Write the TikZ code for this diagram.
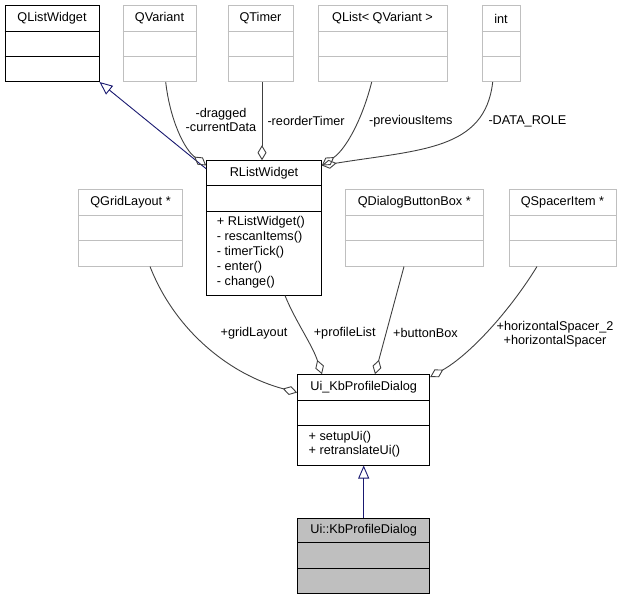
\documentclass[tikz,border=0pt]{standalone}
\usepackage{fontspec}
\setmainfont{Liberation Sans}
\usetikzlibrary{arrows.meta,fit,calc}
\definecolor{greyseventyfive}{RGB}{191,191,191}
\definecolor{edgegray}{RGB}{64,64,64}
\definecolor{inhblue}{RGB}{25,25,112}
% #1 name, #2 style, #3 left x, #4 top y, #5 right x, #6 sep1 y, #7 sep2 y, #8 bottom y, #9 title
\newcommand{\umlcls}[9]{%
  \node[#2, inner sep=0pt, fit={(#3,#4) (#5,#8)}] (#1) {};
  \draw[#2] (#1.west |- 0,#6) -- (#1.east |- 0,#6);
  \draw[#2] (#1.west |- 0,#7) -- (#1.east |- 0,#7);
  \node[inner sep=0pt] (#1-t) at ({(#3+#5)/2},{(#4+#6)/2}) {#9};
}
\begin{document}
\begin{tikzpicture}[x=1pt,y=-1pt,
  font=\fontsize{12.7pt}{14pt}\selectfont,
  clsB/.style={draw=black, fill=white, line width=1pt},
  clsG/.style={draw=greyseventyfive, fill=white, line width=1pt},
  clsF/.style={draw=black, fill=greyseventyfive, line width=1pt},
  meth/.style={inner sep=0pt, anchor=west},
  lbl/.style={inner sep=0pt},
  agg/.style={draw=edgegray, line width=0.9pt, -{Diamond[open, length=15pt, width=9pt]}},
  inh/.style={draw=inhblue, line width=0.9pt, -{Triangle[open, length=13pt, width=11pt]}}]
\useasboundingbox (0,0) rectangle (623,600);

% top row
\umlcls{qlw}{clsB}{5}{5.5}{99}{31.5}{56.5}{81.5}{QListWidget}
\umlcls{qvar}{clsG}{123}{5.5}{196}{31.5}{56.5}{81.5}{QVariant}
\umlcls{qtim}{clsG}{228}{5.5}{293}{31.5}{56.5}{81.5}{QTimer}
\umlcls{qlist}{clsG}{318}{5.5}{447}{31.5}{56.5}{81.5}{QList< QVariant >}
\umlcls{qint}{clsG}{482}{5.5}{520}{31.5}{56.5}{81.5}{int}

% RListWidget
\umlcls{rlw}{clsB}{206.7}{160.7}{321.3}{185.7}{211}{295}{RListWidget}
\node[meth] (rlw-m1) at (216.7,222.3) {+ RListWidget()};
\node[meth] (rlw-m2) at (216.7,237.2) {- rescanItems()};
\node[meth] (rlw-m3) at (216.7,252) {- timerTick()};
\node[meth] (rlw-m4) at (216.7,266.9) {- enter()};
\node[meth] (rlw-m5) at (216.7,281.8) {- change()};

% middle row
\umlcls{qgrid}{clsG}{78.5}{189.5}{182.5}{215}{240.5}{266}{QGridLayout *}
\umlcls{qdbb}{clsG}{345}{189.5}{483.5}{215}{240.5}{266}{QDialogButtonBox *}
\umlcls{qsp}{clsG}{509}{189.5}{616}{215}{240.5}{266}{QSpacerItem *}

% Ui_KbProfileDialog
\umlcls{uikb}{clsB}{297.7}{374.7}{429.7}{400}{425.3}{465}{Ui\_KbProfileDialog}
\node[meth] (uikb-m1) at (308.5,437) {+ setupUi()};
\node[meth] (uikb-m2) at (308.5,451) {+ retranslateUi()};

% Ui::KbProfileDialog
\umlcls{uins}{clsF}{297.7}{518}{429.7}{542.7}{568.7}{593}{Ui::KbProfileDialog}

% edges to RListWidget
\draw[inh] ([yshift=-8.6pt]rlw.north west) -- (qlw.south east);
\draw[agg] ([xshift=6.2pt]qvar.south) .. controls +(4.3,38.3) and +(-21.7,-16) .. ([yshift=-5.3pt]rlw.north west);
\draw[agg] ([xshift=1.5pt]qtim.south) -- ([xshift=-2pt]rlw.north);
\draw[agg] ([xshift=-10.8pt]qlist.south) .. controls +(-9.7,38.3) and +(23.7,-16) .. ([yshift=-5.3pt]rlw.north east);
\draw[agg] ([xshift=-8.3pt]qint.south) .. controls +(-7.7,68.3) and +(98.7,-16) .. ([yshift=-5.3pt]rlw.north east);

% edges to Ui_KbProfileDialog
\draw[agg] ([xshift=19.5pt]qgrid.south) .. controls +(25,64) and +(-67.7,-18) .. ([yshift=-18.3pt]uikb.north west);
\draw[agg] ([xshift=21pt]rlw.south) .. controls +(10,25) and +(-10,-30) .. ([xshift=-41.7pt]uikb.north);
\draw[agg] ([xshift=-10.25pt]qdbb.south) -- ([xshift=11.3pt]uikb.north);
\draw[agg] ([xshift=-25.5pt]qsp.south) .. controls +(-27,44) and +(40,-22.5) .. ([yshift=-2.8pt]uikb.north east);
\draw[inh] (uins.north) -- (uikb.south);

% labels
\node[lbl, align=center] (l-qvar) at (221,120.3) {-dragged\\-currentData};
\node[lbl, anchor=west] (l-qtim) at (267.3,121) {-reorderTimer};
\node[lbl, anchor=west] (l-qlist) at (369,121) {-previousItems};
\node[lbl, anchor=west] (l-qint) at (488.3,121) {-DATA\_ROLE};
\node[lbl] (l-qgrid) at (254,333.3) {+gridLayout};
\node[lbl] (l-rlw) at (344.7,333) {+profileList};
\node[lbl] (l-qdbb) at (425.5,333) {+buttonBox};
\node[lbl, align=center] (l-qsp) at (555,334.2) {+horizontalSpacer\_2\\+horizontalSpacer};
\end{tikzpicture}
\end{document}
